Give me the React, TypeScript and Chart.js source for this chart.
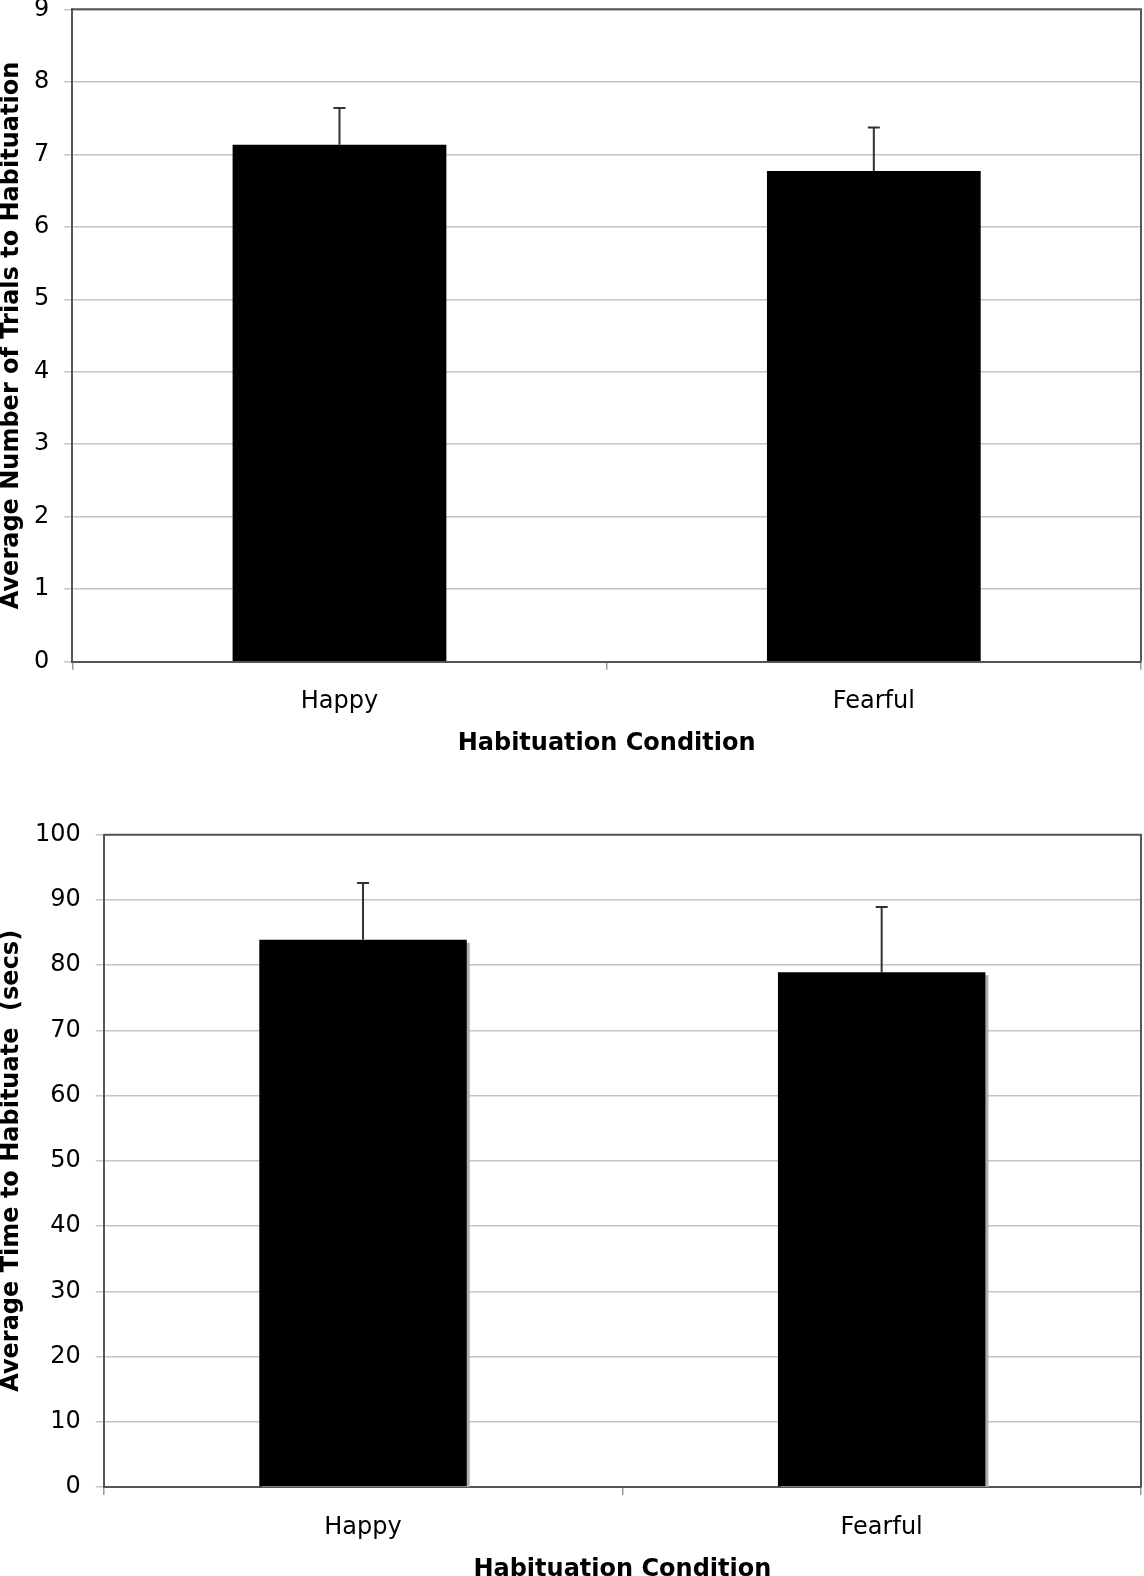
import React, { useEffect, useRef } from 'react';
import { Chart, registerables } from 'chart.js';

Chart.register(...registerables);

// ---- data ----
const categories = ['Happy', 'Fearful'];
const trialsMeans = [7.13, 6.77];
const trialsErrors = [0.51, 0.6];
const trialsTicks = [0, 1, 2, 3, 4, 5, 6, 7, 8, 9];
const timeMeans = [83.9, 78.9];
const timeErrors = [8.7, 10.0];
const timeTicks = [0, 10, 20, 30, 40, 50, 60, 70, 80, 90, 100];

const FONT = 'DejaVu Sans, Verdana, sans-serif';

const errorBarPlugin = {
  id: 'errorBars',
  afterDatasetsDraw(chart: any) {
    const ctx = chart.ctx;
    const yScale = chart.scales.y;
    chart.data.datasets.forEach((ds: any, di: number) => {
      const meta = chart.getDatasetMeta(di);
      const errs: number[] = ds.errors || [];
      meta.data.forEach((el: any, i: number) => {
        const v = ds.data[i];
        const e = errs[i];
        if (e == null) return;
        const yTop = yScale.getPixelForValue(v + e);
        const x = el.x;
        ctx.save();
        ctx.strokeStyle = '#333';
        ctx.lineWidth = 2;
        ctx.beginPath();
        ctx.moveTo(x, el.y);
        ctx.lineTo(x, yTop);
        ctx.moveTo(x - 6, yTop);
        ctx.lineTo(x + 6, yTop);
        ctx.stroke();
        ctx.restore();
      });
    });
  },
};

const boxPlugin = {
  id: 'plotBox',
  afterDraw(chart: any) {
    const { ctx, chartArea } = chart;
    ctx.save();
    ctx.strokeStyle = '#555';
    ctx.lineWidth = 2;
    ctx.beginPath();
    ctx.moveTo(chartArea.left, chartArea.top);
    ctx.lineTo(chartArea.right, chartArea.top);
    ctx.lineTo(chartArea.right, chartArea.bottom);
    ctx.stroke();
    ctx.restore();
  },
};

const shadowPlugin = {
  id: 'barShadow',
  beforeDatasetsDraw(chart: any) {
    if (!chart.options.plugins.barShadow || !chart.options.plugins.barShadow.enabled) return;
    const ctx = chart.ctx;
    ctx.save();
    ctx.shadowColor = '#b0b0b0';
    ctx.shadowOffsetX = 3;
    ctx.shadowOffsetY = 3;
    ctx.shadowBlur = 0;
  },
  afterDatasetsDraw(chart: any) {
    if (!chart.options.plugins.barShadow || !chart.options.plugins.barShadow.enabled) return;
    chart.ctx.restore();
  },
};

interface BarChartProps {
  width: number;
  height: number;
  top: number;
  means: number[];
  errors: number[];
  ticks: number[];
  yTitle: string;
  yAxisWidth: number;
  plotTop: number;
  plotBottom: number;
  shadow: boolean;
  titleBottomPad: number;
}

function BarChart(p: BarChartProps) {
  const ref = useRef<HTMLCanvasElement | null>(null);
  useEffect(() => {
    if (!ref.current) return;
    const chart = new Chart(ref.current, {
      type: 'bar',
      data: {
        labels: categories,
        datasets: [
          {
            data: p.means,
            errors: p.errors,
            backgroundColor: '#000',
            borderWidth: 0,
            barPercentage: 0.4,
            categoryPercentage: 1,
          } as any,
        ],
      },
      options: {
        responsive: false,
        animation: false,
        layout: { padding: { top: p.plotTop, right: 3, left: 0, bottom: 0 } },
        plugins: {
          legend: { display: false },
          tooltip: { enabled: false },
          barShadow: { enabled: p.shadow },
        } as any,
        scales: {
          x: {
            grid: {
              offset: true,
              drawOnChartArea: false,
              drawTicks: true,
              tickLength: 8,
              color: '#9a9a9a',
              lineWidth: 1.5,
            },
            border: { display: true, color: '#555', width: 2 },
            ticks: { font: { family: FONT, size: 24 }, color: '#000', padding: 18 },
            title: {
              display: true,
              text: 'Habituation Condition',
              font: { family: FONT, size: 24, weight: 'bold' },
              color: '#000',
              padding: { top: 0, bottom: p.titleBottomPad },
            },
            afterFit: (s: any) => {
              s.height = p.height - p.plotBottom;
              s.paddingLeft = 0;
              s.paddingRight = 0;
            },
          } as any,
          y: {
            min: p.ticks[0],
            max: p.ticks[p.ticks.length - 1],
            afterBuildTicks: (s: any) => {
              s.ticks = p.ticks.map((v) => ({ value: v }));
            },
            grid: { color: '#c4c4c4', lineWidth: 1.5, tickLength: 8 },
            border: { display: true, color: '#555', width: 2 },
            ticks: { font: { family: FONT, size: 24 }, color: '#000', padding: 15 },
            title: {
              display: true,
              text: p.yTitle,
              font: { family: FONT, size: 24, weight: 'bold', lineHeight: 1 },
              color: '#000',
              padding: 0,
            },
            afterFit: (s: any) => {
              s.width = p.yAxisWidth;
              s.paddingTop = 0;
              s.paddingBottom = 0;
            },
          } as any,
        },
      },
      plugins: [shadowPlugin, errorBarPlugin, boxPlugin],
    });
    return () => chart.destroy();
  }, []);
  return (
    <canvas
      ref={ref}
      width={p.width}
      height={p.height}
      style={{ position: 'absolute', left: 0, top: p.top, width: p.width, height: p.height }}
    />
  );
}

export default function App() {
  return (
    <div
      style={{
        position: 'absolute',
        left: 0,
        top: 0,
        width: 1144,
        height: 1576,
        overflow: 'hidden',
        background: '#fff',
      }}
    >
      <BarChart
        width={1144}
        height={780}
        top={0}
        means={trialsMeans}
        errors={trialsErrors}
        ticks={trialsTicks}
        yTitle="Average Number of Trials to Habituation"
        yAxisWidth={72.3}
        plotTop={9.3}
        plotBottom={661.7}
        shadow={false}
        titleBottomPad={22}
      />
      <BarChart
        width={1144}
        height={820}
        top={780}
        means={timeMeans}
        errors={timeErrors}
        ticks={timeTicks}
        yTitle="Average Time to Habituate  (secs)"
        yAxisWidth={103.7}
        plotTop={54.7}
        plotBottom={707}
        shadow={true}
        titleBottomPad={16}
      />
    </div>
  );
}
